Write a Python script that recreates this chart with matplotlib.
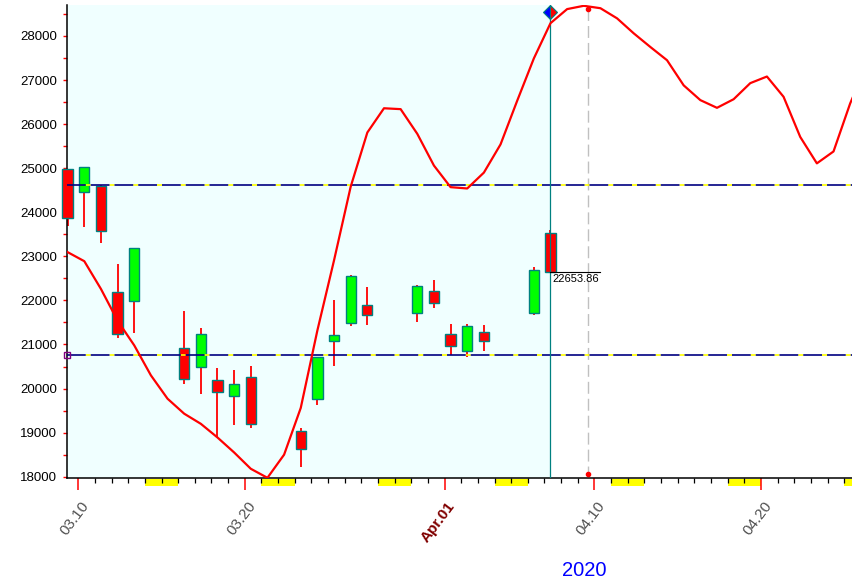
import matplotlib
matplotlib.use("Agg")
import matplotlib.pyplot as plt
from matplotlib.patches import Rectangle
from matplotlib.transforms import blended_transform_factory, offset_copy
import pandas as pd

plt.rcParams['font.family'] = ['Liberation Sans', 'DejaVu Sans']
plt.rcParams['lines.scale_dashes'] = False

# candle data (trading days)
candle_dates = ["2020-03-09", "2020-03-10", "2020-03-11", "2020-03-12", "2020-03-13",
                "2020-03-16", "2020-03-17", "2020-03-18", "2020-03-19", "2020-03-20",
                "2020-03-23", "2020-03-24", "2020-03-25", "2020-03-26", "2020-03-27",
                "2020-03-30", "2020-03-31", "2020-04-01", "2020-04-02", "2020-04-03",
                "2020-04-06", "2020-04-07"]
opens = [24975, 24467, 24596, 22184, 21994, 20914, 20496, 20187, 19838, 20262, 19037,
         19756, 21073, 21481, 21889, 21708, 22207, 21231, 20845, 21277, 21708, 23523]
highs = [24990, 25030, 24610, 22826, 23190, 21760, 21374, 20467, 20421, 20512, 19098,
         20720, 22010, 22577, 22311, 22357, 22463, 21465, 21465, 21442, 22752, 23598]
lows = [23695, 23673, 23310, 21154, 21261, 20110, 19877, 18908, 19180, 19098, 18213,
        19634, 20519, 21420, 21449, 21517, 21835, 20755, 20723, 20859, 21676, 22640]
closes = [23863, 25021, 23575, 21231, 23183, 20210, 21231, 19915, 20097, 19196, 18628,
          20709, 21209, 22547, 21662, 22327, 21935, 20959, 21413, 21073, 22684, 22653.86]

# red line, one value per calendar day from 03.09
line_start = "2020-03-09"
line_values = [23095, 22890, 22260, 21540, 20980, 20300, 19770, 19430, 19200, 18890,
               18550, 18180, 17975, 18500, 19560, 21320, 22910, 24580, 25810, 26360,
               26340, 25780, 25060, 24570, 24540, 24900, 25540, 26530, 27490, 28290,
               28610, 28685, 28630, 28400, 28060, 27750, 27450, 26880, 26545, 26370,
               26565, 26930, 27080, 26620, 25710, 25110, 25380, 26470, 27350]

level_hi = 24619
level_lo = 20755
last_price = 22653.86
marker_price = 28541

tick_dates = ["2020-03-10", "2020-03-20", "2020-04-01", "2020-04-10", "2020-04-20"]
tick_labels = ["03.10", "03.20", "Apr.01", "04.10", "04.20"]
weekend_starts = ["2020-03-14", "2020-03-21", "2020-03-28", "2020-04-04",
                  "2020-04-11", "2020-04-18", "2020-04-25"]

base = pd.Timestamp("2020-03-10")
shift = 0.36  # marks sit a bit right of the day tick


def day(s):
    return (pd.Timestamp(s) - base).days


cx = [day(s) + shift for s in candle_dates]
lx = [day(line_start) + i + shift for i in range(len(line_values))]

fig = plt.figure(figsize=(8.53, 5.82), dpi=100)
ax = fig.add_axes([66.7 / 853, 103.7 / 582, 786.3 / 853, 473.3 / 582])
x0, x1 = -0.697, 46.53
ax.set_xlim(x0, x1)
ax.set_ylim(17964, 28703)

# shaded history area
ax.axvspan(x0, cx[-1], color='#F0FFFF', zorder=0, lw=0)

# candles
for x, o, h, l, c in zip(cx, opens, highs, lows, closes):
    ax.vlines(x, l, h, color='red', lw=1.3, zorder=2, clip_on=False)
    col = '#00FF00' if c >= o else '#FF0000'
    ax.bar(x, abs(c - o), bottom=min(o, c), width=0.62, color=col,
           edgecolor='#008080', linewidth=1, zorder=3, clip_on=False)

# levels
for lv in (level_hi, level_lo):
    ax.axhline(lv, color='#000080', lw=1.2, linestyle=(0, (13.5, 3.6)),
               gapcolor='#FFFF00', zorder=4)
ax.plot([x0], [level_lo], marker='s', ms=5, mfc='none', mec='#800080',
        mew=1, clip_on=False, zorder=6)

# line
ax.plot(lx, line_values, color='red', lw=1.6, zorder=5)

# current bar marker
ax.plot([cx[-1], cx[-1]], [17964, marker_price], color='#008080', lw=0.9, zorder=4)
ax.plot([cx[-1]], [marker_price], marker='D', ms=7, fillstyle='left',
        mfc='blue', mfcalt='red', mec='#008080', mew=0.8, zorder=7)
ax.plot([cx[-1], cx[-1] + 3.0], [last_price, last_price], color='black', lw=0.8, zorder=6)
ax.text(cx[-1] + 0.1, last_price - 60, f"{last_price:.2f}", fontsize=8,
        va='top', ha='left', zorder=6)

# dashed future line
fut = cx[-1] + 2.28
ax.axvline(fut, color='#C0C0C0', lw=1, linestyle=(0, (8.6, 3.6)), zorder=1)
ax.plot([fut, fut], [28620, 18059], 'o', color='red', ms=3, zorder=7)

# axes style
for s in ('top', 'right'):
    ax.spines[s].set_visible(False)
for s in ('left', 'bottom'):
    ax.spines[s].set_linewidth(1.1)
    ax.spines[s].set_color('black')

ax.set_yticks(range(18000, 28001, 1000))
ax.set_yticks(range(18500, 28501, 1000), minor=True)
ax.tick_params(axis='y', which='both', colors='red', length=3, width=1,
               labelcolor='black', labelsize=9.5, pad=4)

ax.set_xticks([day(s) for s in tick_dates])
ax.set_xticklabels([])
ax.set_xticks(range(0, 47), minor=True)
ax.tick_params(axis='x', which='major', colors='red', length=8.5, width=1.1)
ax.tick_params(axis='x', which='minor', colors='black', length=3.6, width=0.9)

trans = blended_transform_factory(ax.transData, ax.transAxes)
lab_tr = offset_copy(trans, fig=fig, x=8, y=-25, units='dots')
for s, lab in zip(tick_dates, tick_labels):
    bold = lab.startswith('Apr')
    ax.text(day(s), 0, lab, transform=lab_tr, rotation=53, ha='right', va='center',
            rotation_mode='anchor', fontsize=11,
            color='#800000' if bold else '#505050',
            fontweight='bold' if bold else 'normal', clip_on=False)

for s in weekend_starts:
    ax.add_patch(Rectangle((day(s), -0.016), 2, 0.014, transform=trans,
                           color='#FFFF00', lw=0, clip_on=False, zorder=1))

fig.text(584 / 853, 1 - 571 / 582, '2020', color='blue', fontsize=14.5,
         ha='center', va='center')

fig.savefig('out.png', dpi=100)
